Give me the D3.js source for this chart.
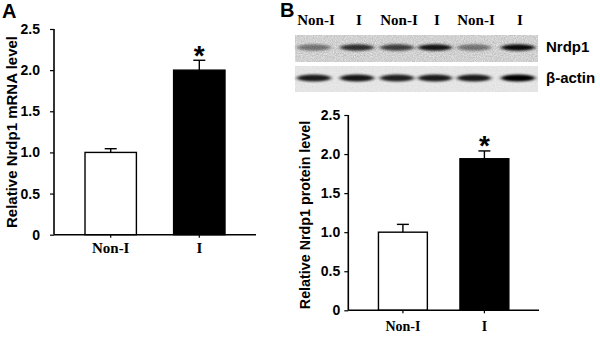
<!DOCTYPE html>
<html>
<head>
<meta charset="utf-8">
<script src="https://cdn.jsdelivr.net/npm/d3@7"></script>
<style>
  body { margin: 0; background: #fff; }
  svg { display: block; }
</style>
</head>
<body>
<script>
// data
var groups = ["Non-I", "I"];
var mrnaMean = [1.0, 2.0];
var mrnaErr = [0.045, 0.12];
var proteinMean = [1.0, 1.94];
var proteinErr = [0.10, 0.10];
var yTicks = [0, 0.5, 1.0, 1.5, 2.0, 2.5];
var laneLabels = ["Non-I", "I", "Non-I", "I", "Non-I", "I"];
var nrdp1Bands = [0.45, 0.78, 0.7, 0.9, 0.45, 0.95];
var actinBands = [0.88, 0.9, 0.86, 0.88, 0.88, 1.0];

var sans = "Liberation Sans, Arial, sans-serif";
var serif = "Liberation Serif, Times New Roman, serif";

var svg = d3.select("body").append("svg").attr("width", 600).attr("height", 337);

var defs = svg.append("defs");
defs.append("filter").attr("id", "blur").attr("x", "-30%").attr("y", "-100%")
  .attr("width", "160%").attr("height", "300%")
  .append("feGaussianBlur").attr("stdDeviation", "2 1.2");
var noise = defs.append("filter").attr("id", "noise");
noise.append("feTurbulence").attr("type", "fractalNoise").attr("baseFrequency", 0.9)
  .attr("numOctaves", 2).attr("seed", 3);
noise.append("feColorMatrix").attr("type", "matrix")
  .attr("values", "0 0 0 0 0  0 0 0 0 0  0 0 0 0 0  0 0 0 0.3 -0.05");
noise.append("feComposite").attr("in2", "SourceGraphic").attr("operator", "in");

function panel(opt) {
  var g = svg.append("g");
  var y = d3.scaleLinear().domain([0, 2.5]).range([opt.y0, opt.y1]);
  var x = d3.scaleBand().domain(groups).range([opt.x0, opt.x1])
    .paddingInner(opt.pin).paddingOuter(opt.pout);

  // bars
  g.selectAll("rect.bar").data(opt.mean).enter().append("rect")
    .attr("x", function(d, i) { return x(groups[i]); })
    .attr("y", function(d) { return y(d); })
    .attr("width", x.bandwidth())
    .attr("height", function(d) { return y(0) - y(d); })
    .attr("fill", function(d, i) { return i == 0 ? "#fff" : "#000"; })
    .attr("stroke", "#000").attr("stroke-width", 1.4);

  // error bars (upper only)
  g.selectAll("line.err").data(opt.mean).enter().append("line")
    .attr("x1", function(d, i) { return x(groups[i]) + x.bandwidth() / 2; })
    .attr("x2", function(d, i) { return x(groups[i]) + x.bandwidth() / 2; })
    .attr("y1", function(d) { return y(d); })
    .attr("y2", function(d, i) { return y(d + opt.err[i]); })
    .attr("stroke", "#000").attr("stroke-width", 1.4);
  g.selectAll("line.cap").data(opt.mean).enter().append("line")
    .attr("x1", function(d, i) { return x(groups[i]) + x.bandwidth() / 2 - 6; })
    .attr("x2", function(d, i) { return x(groups[i]) + x.bandwidth() / 2 + 6; })
    .attr("y1", function(d, i) { return y(d + opt.err[i]); })
    .attr("y2", function(d, i) { return y(d + opt.err[i]); })
    .attr("stroke", "#000").attr("stroke-width", 1.4);

  // asterisk
  g.append("text").text("*")
    .attr("x", x("I") + x.bandwidth() / 2)
    .attr("y", y(opt.mean[1] + opt.err[1]) + opt.astOff)
    .attr("text-anchor", "middle")
    .attr("font-family", sans)
    .attr("font-weight", "bold").attr("font-size", 28);

  // y axis
  var ya = g.append("g").attr("transform", "translate(" + opt.x0 + ",0)")
    .call(d3.axisLeft(y).tickValues(yTicks).tickSize(4).tickPadding(opt.ypad)
      .tickFormat(function(d) { return d == 0 ? "0" : d3.format(".1f")(d); }));
  // x axis
  var xa = g.append("g").attr("transform", "translate(0," + opt.y0 + ")")
    .call(d3.axisBottom(x).tickSize(3));
  [ya, xa].forEach(function(a) {
    a.select(".domain").attr("stroke-width", 1.6);
    a.selectAll(".tick line").attr("stroke-width", 1.2);
  });
  ya.select(".domain").attr("d", "M0," + opt.y0 + "V" + opt.y1);
  xa.select(".domain").attr("d", "M" + opt.x0 + ",0H" + opt.x1);
  ya.selectAll(".tick text").attr("font-family", sans)
    .attr("font-weight", "bold").attr("font-size", 14).attr("fill", "#000");
  xa.selectAll(".tick text").attr("font-family", serif)
    .attr("font-weight", "bold").attr("font-size", opt.xsize).attr("fill", "#000")
    .attr("y", opt.xlab).attr("dy", 0);

  // y title
  g.append("text").text(opt.title)
    .attr("transform", "translate(" + opt.tx + "," + opt.ty + ") rotate(-90)")
    .attr("text-anchor", "middle")
    .attr("font-family", sans)
    .attr("font-weight", "bold").attr("font-size", opt.tsize);
}

panel({ x0: 54, x1: 256, y0: 234.7, y1: 29, pin: 0.42, pout: 0.35,
  mean: mrnaMean, err: mrnaErr, title: "Relative Nrdp1 mRNA level",
  tx: 17, ty: 132, tsize: 15, ypad: 10, astOff: 5, xsize: 15, xlab: 18.5 });
panel({ x0: 348.3, x1: 539, y0: 310.3, y1: 115, pin: 0.4, pout: 0.37,
  mean: proteinMean, err: proteinErr, title: "Relative Nrdp1 protein level",
  tx: 310, ty: 215, tsize: 14.3, ypad: 4, astOff: 4, xsize: 14, xlab: 20.5 });

// panel letters
svg.append("text").text("A").attr("x", 2).attr("y", 18)
  .attr("font-family", sans).attr("font-weight", "bold").attr("font-size", 20);
svg.append("text").text("B").attr("x", 280).attr("y", 17)
  .attr("font-family", sans).attr("font-weight", "bold").attr("font-size", 20);

// western blot
var laneX = [314, 357, 397, 435, 474, 518];
var blot = svg.append("g");
var strips = [{ y: 35, h: 27, bands: nrdp1Bands, fill: "#e8e8e8", label: "Nrdp1", bh: 3.2, ly: 52, nz: 1 },
              { y: 66, h: 26, bands: actinBands, fill: "#ededed", label: "\u03b2-actin", bh: 3.6, ly: 83, nz: 0.35 }];
strips.forEach(function(s) {
  blot.append("rect").attr("x", 295).attr("y", s.y).attr("width", 243).attr("height", s.h)
    .attr("fill", s.fill);
  blot.append("rect").attr("x", 295).attr("y", s.y).attr("width", 243).attr("height", s.h)
    .attr("fill", "#fff").attr("filter", "url(#noise)").attr("opacity", s.nz);
  blot.selectAll(null).data(s.bands).enter().append("ellipse")
    .attr("cx", function(d, i) { return laneX[i]; })
    .attr("cy", s.y + s.h / 2 - 1)
    .attr("rx", 17).attr("ry", s.bh)
    .attr("fill", "#000")
    .attr("opacity", function(d) { return d; })
    .attr("filter", "url(#blur)");
  blot.append("text").text(s.label).attr("x", 546).attr("y", s.ly)
    .attr("font-family", sans).attr("font-weight", "bold")
    .attr("font-size", 15);
});
blot.selectAll("text.lane").data(laneLabels).enter().append("text")
  .text(function(d) { return d; })
  .attr("x", function(d, i) { return laneX[i] + 2; })
  .attr("y", 25)
  .attr("text-anchor", "middle")
  .attr("font-family", serif)
  .attr("font-weight", "bold").attr("font-size", 15);
</script>
</body>
</html>
